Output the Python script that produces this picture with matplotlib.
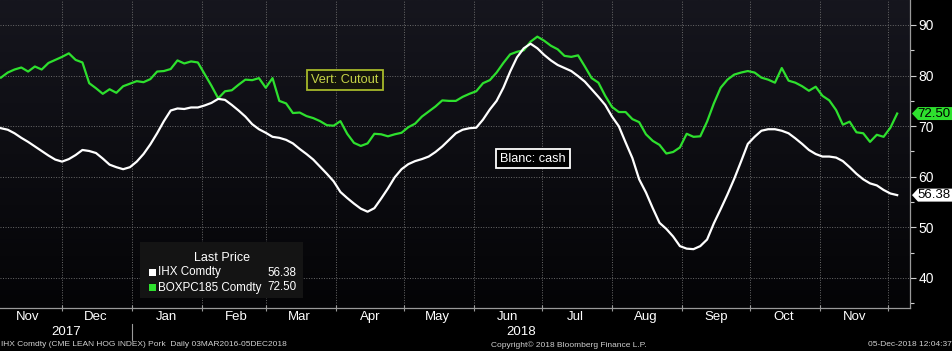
import matplotlib
matplotlib.use("Agg")
import matplotlib.pyplot as plt
import matplotlib.dates as mdates
import matplotlib.transforms as mtransforms
from matplotlib.patches import Polygon, Rectangle
from matplotlib.ticker import MultipleLocator, NullFormatter
import numpy as np
import pandas as pd

plt.rcParams["font.family"] = ["Liberation Sans", "DejaVu Sans"]

# ---- data ----
start_date = "2017-11-04"
step = "3D"

cash = [69.6, 69.3, 68.6, 67.7, 66.9, 66.0, 65.1, 64.2, 63.4, 63.0,
        63.5, 64.3, 65.3, 65.1, 64.7, 63.6, 62.4, 61.9, 61.5, 61.9,
        63.0, 64.5, 66.4, 68.6, 71.0, 73.1, 73.5, 73.4, 73.7, 73.7,
        74.1, 74.6, 75.4, 75.2, 74.2, 73.1, 71.9, 70.4, 69.4, 68.7,
        67.9, 67.7, 67.3, 66.6, 65.5, 64.5, 63.4, 62.0, 60.6, 59.1,
        57.0, 55.8, 54.7, 53.7, 53.1, 53.8, 55.7, 57.7, 59.9, 61.5,
        62.5, 63.1, 63.5, 64.0, 64.9, 66.0, 67.3, 68.6, 69.3, 69.6,
        69.7, 71.3, 73.3, 75.0, 77.6, 80.8, 83.6, 85.4, 86.3, 85.4,
        84.1, 83.0, 82.1, 81.5, 80.9, 79.9, 78.8, 77.3, 75.8, 74.2,
        71.9, 70.0, 66.8, 63.7, 59.5, 56.9, 53.8, 50.9, 49.7, 48.2,
        46.3, 45.8, 45.7, 46.3, 47.6, 50.8, 53.6, 56.5, 59.6, 63.0,
        66.5, 67.9, 69.1, 69.4, 69.4, 69.1, 68.6, 67.6, 66.5, 65.3,
        64.5, 64.0, 64.0, 63.8, 63.1, 61.9, 60.6, 59.5, 58.7, 58.3,
        57.4, 56.7, 56.38]

cutout = [79.6, 80.6, 81.2, 81.6, 80.8, 81.8, 81.2, 82.5, 83.1, 83.7,
          84.4, 83.1, 82.6, 78.5, 77.5, 76.4, 77.3, 76.6, 77.9, 78.4,
          78.9, 78.7, 79.3, 80.8, 80.9, 81.3, 83.0, 82.4, 82.8, 82.6,
          80.3, 78.0, 75.5, 76.9, 77.1, 78.2, 79.2, 79.1, 79.5, 77.6,
          79.5, 75.0, 74.5, 72.6, 72.7, 72.0, 71.6, 71.0, 70.2, 70.1,
          71.0, 68.5, 66.7, 66.1, 66.6, 68.5, 68.4, 68.0, 68.4, 68.7,
          69.8, 70.5, 71.9, 72.9, 73.9, 75.1, 75.0, 75.0, 75.8, 76.4,
          76.9, 78.5, 79.1, 80.6, 82.5, 84.2, 84.7, 85.0, 86.7, 87.7,
          86.9, 85.9, 85.2, 83.9, 83.7, 84.0, 81.8, 79.5, 78.6, 76.0,
          73.8, 72.8, 72.8, 71.4, 70.8, 68.4, 67.1, 66.3, 64.6, 64.9,
          65.8, 68.5, 67.9, 68.0, 70.9, 74.5, 77.6, 79.2, 80.2, 80.6,
          80.9, 80.6, 79.6, 79.2, 78.6, 81.5, 79.0, 78.6, 77.9, 77.0,
          77.8, 76.0, 75.1, 73.2, 70.3, 70.9, 68.8, 68.6, 66.9, 68.3,
          67.9, 69.7, 72.5]

legend_names = ["IHX Comdty", "BOXPC185 Comdty"]
last_cash = "56.38"
last_cutout = "72.50"

dates = pd.date_range(start_date, periods=len(cash), freq=step)

# ---- figure ----
W, H = 953, 351
fig = plt.figure(figsize=(W / 100, H / 100), dpi=100, facecolor="black")
ax_l, ax_b, ax_w, ax_h = 0.0, 43 / H, 910 / W, 308 / H
ax = fig.add_axes([ax_l, ax_b, ax_w, ax_h])

x0 = mdates.date2num(pd.Timestamp("2017-11-03 14:00"))
x1 = mdates.date2num(pd.Timestamp("2018-12-10 16:00"))
y0, y1 = 34.07, 94.94

# gradient background
grad = np.linspace(0, 1, 256).reshape(-1, 1)
top = np.array([22, 22, 30]) / 255.0
bot = np.array([4, 4, 6]) / 255.0
img = bot + (top - bot) * grad
img = np.repeat(img[:, None, :], 2, axis=1)
ax.imshow(img, extent=[0, 1, 0, 1], transform=ax.transAxes, aspect="auto",
          origin="lower", zorder=0, interpolation="bilinear")

GREEN = "#2ee02e"
ax.plot(dates, cutout, color=GREEN, lw=1.6, zorder=3)
ax.plot(dates, cash, color="white", lw=1.6, zorder=3)

ax.set_xlim(x0, x1)
ax.set_ylim(y0, y1)

# x axis
ax.xaxis.set_major_locator(mdates.MonthLocator())
ax.xaxis.set_major_formatter(NullFormatter())
ax.xaxis.set_minor_locator(mdates.MonthLocator(bymonthday=16))
ax.xaxis.set_minor_formatter(mdates.DateFormatter("%b"))
ax.tick_params(axis="x", which="major", direction="inout", length=4,
               color="#9a9a9a", width=0.8)
ax.tick_params(axis="x", which="minor", length=0, pad=2.5, labelsize=9.5,
               labelcolor="white")

# y axis
ax.yaxis.tick_right()
ax.yaxis.set_major_locator(MultipleLocator(10))
ax.yaxis.set_minor_locator(MultipleLocator(5))
ax.tick_params(axis="y", which="major", direction="out", length=4,
               color="#cfcfcf", width=0.8, pad=2, labelsize=10,
               labelcolor="white")
ax.tick_params(axis="y", which="minor", direction="out", length=3,
               color="#cfcfcf", width=0.8)

ax.grid(True, which="major", color="#6a6a6a", linestyle=(0, (1, 1.6)),
        linewidth=0.7, zorder=1)
ax.set_axisbelow(True)

for s in ["top", "left"]:
    ax.spines[s].set_visible(False)
for s in ["right", "bottom"]:
    ax.spines[s].set_color("#9a9a9a")
    ax.spines[s].set_linewidth(0.9)

# year labels
trans = mtransforms.blended_transform_factory(ax.transData, ax.transAxes)
jan1 = mdates.date2num(pd.Timestamp("2018-01-01"))
ax.text((x0 + jan1) / 2, -0.078, "2017", transform=trans, color="white",
        fontsize=9.5, ha="center", va="center")
ax.text((jan1 + x1) / 2, -0.078, "2018", transform=trans, color="white",
        fontsize=9.5, ha="center", va="center")
ax.plot([jan1, jan1], [-0.052, -0.104], transform=trans, color="#9a9a9a",
        lw=0.8, clip_on=False)


def fx(px):
    return px / W


def fy(py):
    return (H - py) / H


# legend box
fig.add_artist(Rectangle((fx(140), fy(298)), 163 / W, 56 / H,
                         transform=fig.transFigure, facecolor="#141414",
                         edgecolor="none", zorder=5))
fig.text(fx(222), fy(258), "Last Price", color="white", fontsize=9,
         ha="center", va="center", zorder=6)
rows = [(legend_names[0], last_cash, "white", 272.5),
        (legend_names[1], last_cutout, GREEN, 287.5)]
for name, val, col, py in rows:
    fig.add_artist(Rectangle((fx(149), fy(py + 3.5)), 7 / W, 7 / H,
                             transform=fig.transFigure, facecolor=col,
                             edgecolor="none", zorder=6))
    fig.text(fx(158.5), fy(py), name, color="white", fontsize=8.4,
             ha="left", va="center", zorder=6)
    fig.text(fx(296), fy(py), val, color="white", fontsize=8.4,
             ha="right", va="center", zorder=6)

# annotation boxes
fig.text(fx(345), fy(80), "Vert: Cutout", color="#c6d448", fontsize=9.2,
         ha="center", va="center", zorder=6,
         bbox=dict(boxstyle="square,pad=0.3", facecolor="#14140c",
                   edgecolor="#a6b82a", linewidth=1.3))
fig.text(fx(533), fy(158.5), "Blanc: cash", color="white", fontsize=9.2,
         ha="center", va="center", zorder=6,
         bbox=dict(boxstyle="square,pad=0.3", facecolor="black",
                   edgecolor="white", linewidth=1.3))


# last value tags on right axis
def tag(value, text, color):
    frac = (value - y0) / (y1 - y0)
    py = H - (ax_b + frac * ax_h) * H
    hh = 6.5
    pts = [(fx(912), fy(py)), (fx(918), fy(py - hh)), (fx(953), fy(py - hh)),
           (fx(953), fy(py + hh)), (fx(918), fy(py + hh))]
    fig.add_artist(Polygon(pts, closed=True, transform=fig.transFigure,
                           facecolor=color, edgecolor="none", zorder=7))
    fig.text(fx(934), fy(py), text, color="black", fontsize=9.5,
             ha="center", va="center", zorder=8)


tag(float(last_cutout), last_cutout, GREEN)
tag(float(last_cash), last_cash, "white")

# footer
fig.text(fx(1), fy(345), "IHX Comdty (CME LEAN HOG INDEX) Pork  Daily 03MAR2016-05DEC2018",
         color="#d0d0d0", fontsize=6, ha="left", va="center")
fig.text(fx(491), fy(345), "Copyright\u00a9 2018 Bloomberg Finance L.P.",
         color="#d0d0d0", fontsize=6, ha="left", va="center")
fig.text(fx(952), fy(345), "05-Dec-2018 12:04:37",
         color="#d0d0d0", fontsize=6, ha="right", va="center")

fig.savefig("out.png", dpi=100, facecolor="black")
